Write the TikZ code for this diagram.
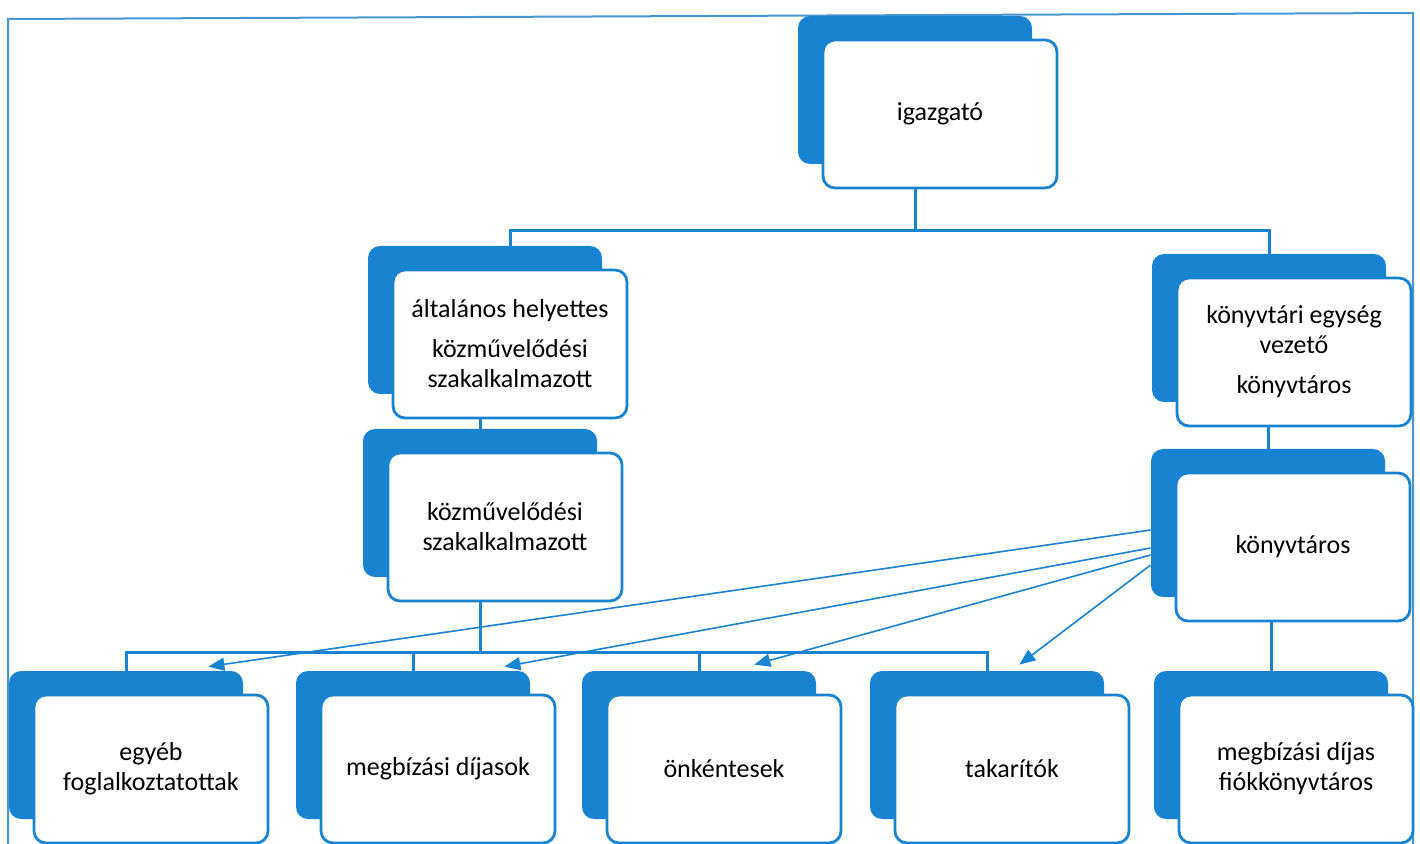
\documentclass[tikz,border=0pt]{standalone}
\usepackage{fontspec}
\setmainfont{Carlito}
\usetikzlibrary{arrows.meta}
\definecolor{orgblue}{RGB}{24,131,208}
\definecolor{frameblue}{RGB}{70,150,210}
\tikzset{
  back/.style={fill=orgblue, rounded corners=6pt, minimum width=117pt, minimum height=74pt},
  unit/.style={draw=orgblue, line width=1.4pt, fill=white, rounded corners=6pt,
    minimum width=117pt, minimum height=74pt, align=center,
    font=\fontsize{13}{15}\selectfont},
  link/.style={draw=orgblue, line width=1.5pt},
  pointer/.style={draw=orgblue, line width=0.8pt, -{Triangle[length=8pt,width=6.5pt]}}
}
\begin{document}
\begin{tikzpicture}[x=0.5pt,y=-0.5pt]
\useasboundingbox (0,0) rectangle (1420,844);
% keret
\draw[frameblue, line width=1pt] (8,844) -- (8,19) -- (1413,13) -- (1413,844);
% vezetes
\node[back] (igB) at (915,90) {};
\node[unit] (ig) at ([shift={(25,24)}]igB) {igazgató};
\node[back] (altB) at (485,320) {};
\node[unit] (alt) at ([shift={(25,24)}]altB) {általános helyettes\\[5pt] közművelődési\\ szakalkalmazott};
\node[back] (kozB) at (480,503) {};
\node[unit] (koz) at ([shift={(25,24)}]kozB) {közművelődési\\ szakalkalmazott};
\node[back] (konyvB) at (1269,328) {};
\node[unit] (konyv) at ([shift={(25,24)}]konyvB) {könyvtári egység\\ vezető\\[5pt] könyvtáros};
\node[back] (kvtB) at (1268,523) {};
\node[unit] (kvt) at ([shift={(25,24)}]kvtB) {könyvtáros};
% also sor
\node[back] (egyB) at (126,745) {};
\node[unit] (egy) at ([shift={(25,24)}]egyB) {egyéb\\ foglalkoztatottak};
\node[back] (megB) at (413,745) {};
\node[unit] (meg) at ([shift={(25,24)}]megB) {megbízási díjasok};
\node[back] (onkB) at (699,745) {};
\node[unit] (onk) at ([shift={(25,24)}]onkB) {önkéntesek};
\node[back] (takB) at (987,745) {};
\node[unit] (tak) at ([shift={(25,24)}]takB) {takarítók};
\node[back] (fiokB) at (1271,745) {};
\node[unit] (fiok) at ([shift={(25,24)}]fiokB) {megbízási díjas\\ fiókkönyvtáros};
% vonalak
\draw[link] (ig.south -| igB.south) -- ++(0,41) -| (alt.north |- altB.north);
\draw[link] (ig.south -| igB.south) -- ++(0,41) -| (konyvB.north);
\draw[link] (alt.south -| kozB.north) -- (kozB.north);
\draw[link] (konyv.south -| kvtB.north) -- (kvtB.north);
\draw[link] (koz.south -| kozB.south) -- ++(0,50) coordinate (hub);
\draw[link] (egyB.north) |- (hub) -| (takB.north);
\draw[link] (megB.north) -- (megB.north |- hub);
\draw[link] (onkB.north) -- (onkB.north |- hub);
\draw[link] (kvt.south -| fiokB.north) -- (fiokB.north);
% nyilak
\draw[pointer] ([shift={(0,7)}]kvtB.west) -- ([shift={(-35,-4)}]egyB.north east);
\draw[pointer] ([shift={(0,25)}]kvtB.west) -- ([shift={(-26,-4)}]megB.north east);
\draw[pointer] ([shift={(0,32)}]kvtB.west) -- ([shift={(-62,-6)}]onkB.north east);
\draw[pointer] ([shift={(0,42)}]kvtB.west) -- ([shift={(-85,-6)}]takB.north east);
\end{tikzpicture}
\end{document}
